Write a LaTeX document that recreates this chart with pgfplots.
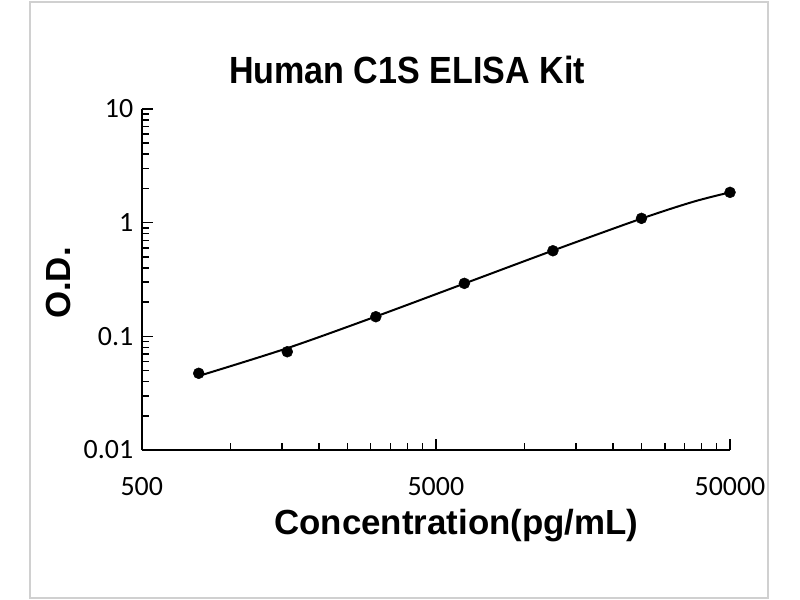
\documentclass[border=0pt]{standalone}
\usepackage{fontspec}
\setmainfont{Liberation Sans}
\newfontfamily\carlito{Carlito}
\usepackage{graphicx}
\usepackage{pgfplots}
\pgfplotsset{compat=1.18}
\definecolor{framegray}{RGB}{208,208,208}
\pgfplotstableread{
x y
781.25 0.0473
1562.5 0.0732
3125 0.1488
6250 0.2924
12500 0.566
25000 1.091
50000 1.848
}\odtable
\pgfplotstableread{
x y
781.25 0.0448
1562.5 0.0787
3125 0.1494
6250 0.2913
12500 0.5684
25000 1.086
37500 1.527
50000 1.848
}\fittable
\begin{document}
\begin{tikzpicture}
\useasboundingbox (0bp,0bp) rectangle (800bp,600bp);
\fill[white] (0bp,0bp) rectangle (800bp,600bp);
\draw[line width=2bp, framegray] (29.5bp,2bp) rectangle (768bp,598bp);
\begin{axis}[
  at={(141.7bp,150bp)}, anchor=south west, scale only axis,
  width=588.3bp, height=341bp,
  xmode=log, ymode=log,
  xmin=500, xmax=50000, ymin=0.01, ymax=10,
  axis lines=left,
  axis line style={line width=2bp, -, black},
  clip=false,
  tick align=inside,
  major tick length=11bp, minor tick length=7bp,
  every tick/.style={line width=1.5bp, black},
  xtick={500,5000,50000},
  xticklabels={500,5000,50000},
  minor xtick={1000,1500,2000,2500,3000,3500,4000,4500,10000,15000,20000,25000,30000,35000,40000,45000},
  ytick={0.01,0.1,1,10},
  yticklabels={0.01,0.1,1,10},
  minor ytick={0.02,0.03,0.04,0.05,0.06,0.07,0.08,0.09,0.2,0.3,0.4,0.5,0.6,0.7,0.8,0.9,2,3,4,5,6,7,8,9},
  xticklabel style={font=\carlito\fontsize{28}{28}\selectfont},
  yticklabel style={font=\carlito\fontsize{28}{28}\selectfont},
  xticklabel shift=24bp,
  yticklabel shift=5bp,
]
\addplot[black, line width=2bp, smooth, tension=0.5, no marks] table[x=x, y=y] {\fittable};
\addplot[only marks, mark=*, mark size=5.5bp, mark options={solid, fill=black, draw=black}] table[x=x, y=y] {\odtable};
\end{axis}
\node[anchor=base] at (407bp,516bp) {\scalebox{0.9}[1]{\bfseries\fontsize{38}{38}\selectfont Human C1S ELISA Kit}};
\node[anchor=base] at (456.5bp,65bp) {\bfseries\fontsize{35}{35}\selectfont Concentration(pg/mL)};
\node[anchor=base, rotate=90] at (70bp,317bp) {\bfseries\fontsize{35}{35}\selectfont O.D.};
\end{tikzpicture}
\end{document}
